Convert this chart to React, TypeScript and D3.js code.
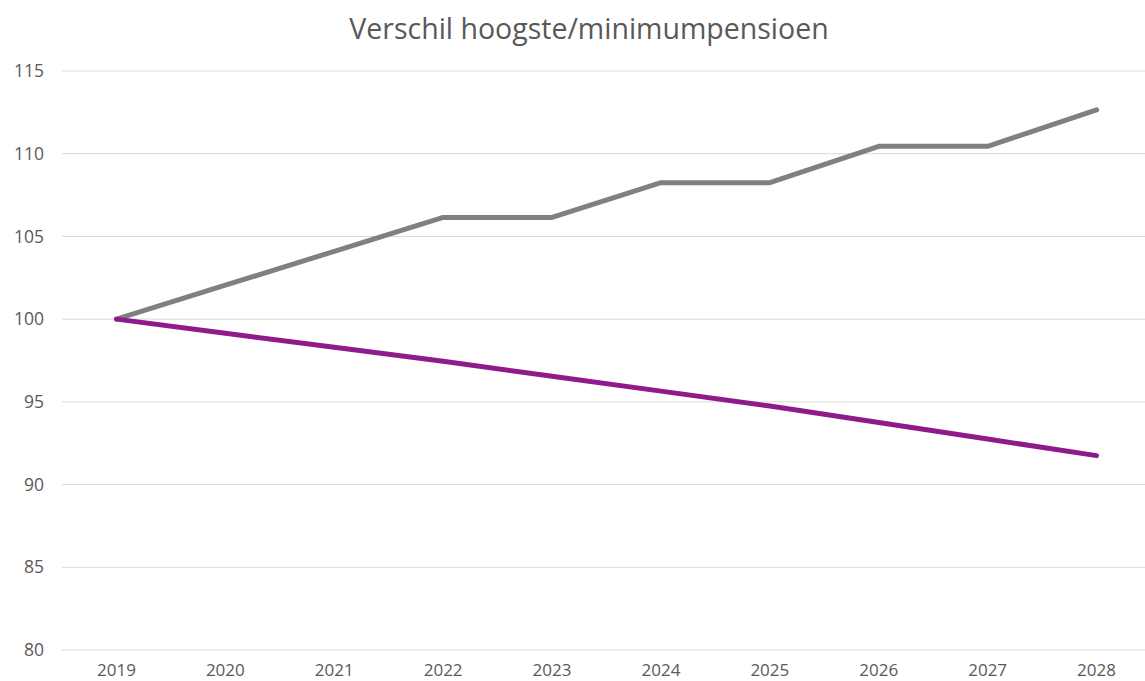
import React from "react";
import * as d3 from "d3";

const years = ["2019", "2020", "2021", "2022", "2023", "2024", "2025", "2026", "2027", "2028"];
const hoogste = [100, 102.05, 104.1, 106.15, 106.15, 108.25, 108.25, 110.45, 110.45, 112.65];
const minimum = [100, 99.15, 98.3, 97.45, 96.55, 95.65, 94.75, 93.75, 92.75, 91.75];
const yTicks = [80, 85, 90, 95, 100, 105, 110, 115];
const title = "Verschil hoogste/minimumpensioen";

const W = 1145;
const H = 681;

export default function App() {
  const x = d3.scaleBand<string>().domain(years).range([62, 1151]);
  const y = d3.scaleLinear().domain([80, 115]).range([650, 71]);
  const line = d3
    .line<number>()
    .x((_, i) => (x(years[i]) as number) + x.bandwidth() / 2)
    .y((d) => y(d));
  const font = "'Open Sans', 'DejaVu Sans', sans-serif";
  return (
    <div style={{ position: "absolute", left: 0, top: 0 }}>
      <svg width={W} height={H} style={{ display: "block", background: "#fff" }}>
        <text x={589} y={39} textAnchor="middle" fontFamily={font} fontSize={28.5} fill="#595959">
          {title}
        </text>
        {yTicks.map((t) => (
          <g key={t}>
            <line x1={62} x2={W} y1={y(t)} y2={y(t)} stroke="#d9d9d9" strokeWidth={1} />
            <text x={44} y={y(t)} dy="0.35em" textAnchor="end" fontFamily={font} fontSize={17.5} fill="#595959">
              {t}
            </text>
          </g>
        ))}
        {years.map((yr) => (
          <text
            key={yr}
            x={(x(yr) as number) + x.bandwidth() / 2}
            y={676}
            textAnchor="middle"
            fontFamily={font}
            fontSize={17}
            fill="#595959"
          >
            {yr}
          </text>
        ))}
        <path d={line(hoogste) || ""} fill="none" stroke="#808080" strokeWidth={5} strokeLinejoin="round" strokeLinecap="round" />
        <path d={line(minimum) || ""} fill="none" stroke="#8e1a8c" strokeWidth={5} strokeLinejoin="round" strokeLinecap="round" />
      </svg>
    </div>
  );
}
